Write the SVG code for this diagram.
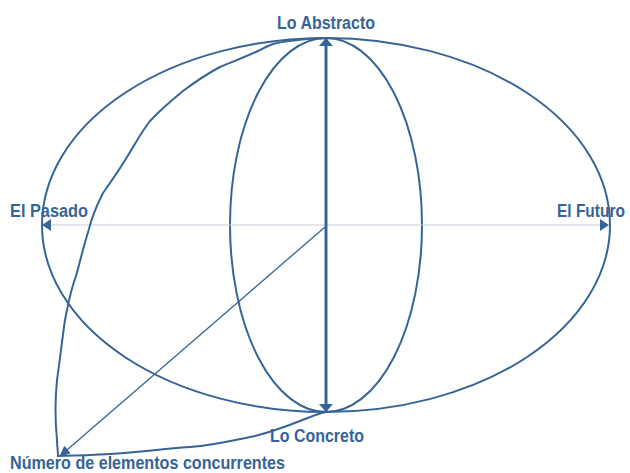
<svg xmlns="http://www.w3.org/2000/svg" width="630" height="473" viewBox="0 0 630 473">
<style>
.ln{fill:none;stroke:#366496;stroke-width:2}
.lbl{font-family:"Liberation Sans Narrow","Arial Narrow","Liberation Sans",sans-serif;font-weight:bold;font-size:18px;fill:#366496}
</style>
<defs>
<marker id="ah" markerWidth="9" markerHeight="12" refX="8" refY="6" orient="auto" markerUnits="userSpaceOnUse"><path d="M0,0 L9,6 L0,12 Z" fill="#366496"/></marker>
<marker id="ahv" markerWidth="8" markerHeight="14" refX="8" refY="7" orient="auto" markerUnits="userSpaceOnUse"><path d="M0,0 L8,7 L0,14 Z" fill="#366496"/></marker>
<marker id="ahd" markerWidth="11" markerHeight="10" refX="10" refY="5" orient="auto" markerUnits="userSpaceOnUse"><path d="M0,0 L11,5 L0,10 Z" fill="#366496"/></marker>
</defs>
<g id="outer-ellipse"><ellipse class="ln" cx="326" cy="225" rx="284" ry="187"/></g>
<g id="inner-ellipse"><ellipse class="ln" cx="326" cy="225" rx="96" ry="187"/></g>
<g id="connectors">
<line x1="326" y1="225" x2="43" y2="225" stroke="#C3CEDB" stroke-width="1.2" marker-end="url(#ah)"/>
<line x1="326" y1="225" x2="608" y2="225" stroke="#C3CEDB" stroke-width="1.2" marker-end="url(#ah)"/>
<line x1="326" y1="225" x2="326" y2="38" stroke="#366496" stroke-width="3" marker-end="url(#ahv)"/>
<line x1="326" y1="225" x2="326" y2="412" stroke="#366496" stroke-width="3" marker-end="url(#ahv)"/>
<line x1="325" y1="227" x2="60" y2="456" stroke="#366496" stroke-width="1.3" marker-end="url(#ahd)"/>
<path class="ln" d="M326,38 C300,39 285,41 273,44 C265,47 262,49 258,51 C245,57 232,62 220,67 C205,75 195,82 183,91 C172,100 160,110 150,121 C140,134 134,146 127,157 C118,172 110,183 103,193 C97,205 92,216 89,229 C83,248 80,262 76,276 C70,292 68,305 65,320 C62,340 60,360 57,380 C55,400 55,420 57,440 C57,446 58,451 58,456 C75,456 90,455 110,454 C135,453 160,449 190,447 C215,445 235,440 255,436 C275,431 290,425 305,419 C315,415 320,413 326,412"/>
</g>
<g id="lo-abstracto"><text class="lbl" x="277" y="29" textLength="98" lengthAdjust="spacingAndGlyphs">Lo Abstracto</text></g>
<g id="el-pasado"><text class="lbl" x="10" y="217" textLength="78" lengthAdjust="spacingAndGlyphs">El Pasado</text></g>
<g id="el-futuro"><text class="lbl" transform="translate(557,217) scale(0.86,1)" x="0" y="0">El Futuro</text></g>
<g id="lo-concreto"><text class="lbl" x="270" y="442" textLength="94" lengthAdjust="spacingAndGlyphs">Lo Concreto</text></g>
<g id="numero"><text class="lbl" x="10" y="469" textLength="275" lengthAdjust="spacingAndGlyphs">Número de elementos concurrentes</text></g>
</svg>
